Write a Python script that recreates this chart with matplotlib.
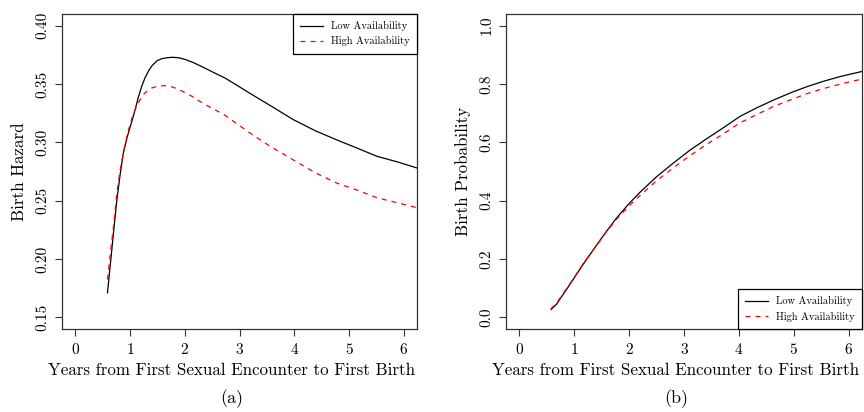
import matplotlib
matplotlib.use("Agg")
import matplotlib.pyplot as plt

# values
years_a = [0.59, 0.65, 0.70, 0.76, 0.82, 0.88, 0.95, 1.035, 1.095, 1.155, 1.215, 1.277, 1.34, 1.40, 1.49, 1.58,
           1.69, 1.79, 1.90, 2.01, 2.15, 2.31, 2.50, 2.74, 2.95, 3.19, 3.58, 3.98, 4.38, 4.78, 5.15, 5.51, 5.90, 6.24]
hazard_low = [0.171, 0.199, 0.2225, 0.250, 0.272, 0.291, 0.3045, 0.318, 0.328, 0.339, 0.348, 0.3555, 0.3612, 0.3655,
              0.3698, 0.3717, 0.3726, 0.3729, 0.3724, 0.371, 0.3685, 0.365, 0.3605, 0.355, 0.349, 0.342, 0.331,
              0.3195, 0.310, 0.302, 0.295, 0.288, 0.283, 0.278]
years_h = [0.59, 0.65, 0.70, 0.76, 0.82, 0.90, 0.973, 1.035, 1.095, 1.17, 1.246, 1.32, 1.40, 1.50, 1.61,
           1.72, 1.825, 1.97, 2.13, 2.28, 2.43, 2.71, 2.95, 3.19, 3.58, 3.98, 4.38, 4.78, 5.15, 5.51, 5.90, 6.24]
hazard_high = [0.1825, 0.208, 0.228, 0.256, 0.276, 0.296, 0.3105, 0.3205, 0.328, 0.3355, 0.341, 0.3443, 0.3466,
               0.348, 0.3486, 0.3482, 0.3466, 0.3435, 0.3395, 0.335, 0.331, 0.324, 0.316, 0.308, 0.296, 0.285,
               0.274, 0.265, 0.259, 0.2525, 0.248, 0.244]

years_b = [0.58, 0.68, 0.75, 0.86, 0.98, 1.15, 1.34, 1.55, 1.77, 2.00, 2.20, 2.50, 2.80, 3.10, 3.41, 3.70, 4.02,
           4.32, 4.63, 4.93, 5.24, 5.55, 5.85, 6.24]
prob_low = [0.027, 0.045, 0.065, 0.095, 0.129, 0.178, 0.229, 0.285, 0.340, 0.390, 0.429, 0.482, 0.528, 0.572,
            0.612, 0.648, 0.689, 0.718, 0.745, 0.769, 0.791, 0.810, 0.826, 0.843]
prob_high = [0.030, 0.048, 0.068, 0.098, 0.131, 0.180, 0.229, 0.284, 0.336, 0.382, 0.418, 0.468, 0.512, 0.553,
             0.593, 0.627, 0.667, 0.695, 0.723, 0.745, 0.767, 0.785, 0.800, 0.817]

labels = ["Low Availability", "High Availability"]
xlabel = "Years from First Sexual Encounter to First Birth"

plt.rcParams['font.family'] = ['cmr10', 'DejaVu Serif']
plt.rcParams['axes.formatter.use_mathtext'] = True
plt.rcParams['mathtext.fontset'] = 'cm'

fig = plt.figure(figsize=(8.64, 4.12), dpi=100)
ax1 = fig.add_axes([62 / 864, 1 - 329 / 412, 355 / 864, 315 / 412])
ax2 = fig.add_axes([506 / 864, 1 - 329 / 412, 356 / 864, 315 / 412])

lw = 0.9
ax1.plot(years_a, hazard_low, color='black', lw=lw, label=labels[0])
ax1.plot(years_h, hazard_high, color='red', lw=lw, ls=(0, (4, 4)), label=labels[1])
ax2.plot(years_b, prob_low, color='black', lw=lw, label=labels[0])
ax2.plot(years_b, prob_high, color='red', lw=lw, ls=(0, (4, 4)), label=labels[1])

ax1.set_ylim(0.14, 0.41)
ax1.set_yticks([0.15, 0.20, 0.25, 0.30, 0.35, 0.40])
ax1.set_yticklabels(["0.15", "0.20", "0.25", "0.30", "0.35", "0.40"])
ax1.set_ylabel("Birth Hazard", fontsize=12.25, labelpad=6)

ax2.set_ylim(-0.04, 1.04)
ax2.set_yticks([0.0, 0.2, 0.4, 0.6, 0.8, 1.0])
ax2.set_yticklabels(["0.0", "0.2", "0.4", "0.6", "0.8", "1.0"])
ax2.set_ylabel("Birth Probability", fontsize=12.25, labelpad=6)

for ax, cap in [(ax1, "(a)"), (ax2, "(b)")]:
    ax.set_xlim(-0.24, 6.24)
    ax.set_xticks(range(7))
    ax.set_xlabel(xlabel, fontsize=12.2, labelpad=4)
    ax.xaxis.set_label_coords(0.477, -0.106)
    ax.xaxis.label.set_va('top')
    ax.tick_params(direction='out', length=5, width=0.8, labelsize=11, pad=4, color='#333333')
    for lab in ax.get_yticklabels():
        lab.set_rotation(90)
        lab.set_va('center')
    for s in ax.spines.values():
        s.set_linewidth(0.9)
        s.set_color('#333333')
    ax.text(0.477, -0.22, cap, transform=ax.transAxes, ha='center', va='center', fontsize=13)

leg1 = ax1.legend(loc='upper right', fontsize=7.5, frameon=True, fancybox=False, borderaxespad=0,
                  handlelength=2.2, edgecolor='black', borderpad=0.7, labelspacing=0.5)
leg2 = ax2.legend(loc='lower right', fontsize=7.5, frameon=True, fancybox=False, borderaxespad=0,
                  handlelength=2.2, edgecolor='black', borderpad=0.7, labelspacing=0.5)
for leg in (leg1, leg2):
    leg.get_frame().set_linewidth(0.9)
    leg.get_frame().set_alpha(1)

fig.savefig("out.png", dpi=100)
